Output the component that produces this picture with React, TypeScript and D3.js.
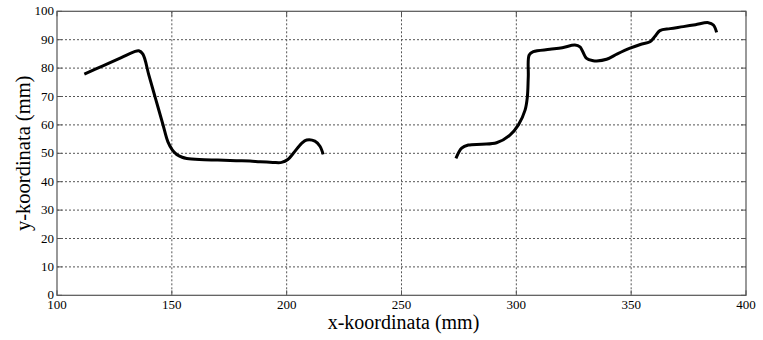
import * as d3 from "d3"

const seg1X = [111.9, 120, 128, 133.5, 135.6, 137.4, 140, 143, 146, 148.3, 150.2, 152.1, 154.5, 156.5, 162, 170, 178, 184, 188.4, 194, 197.8, 200.5, 202.9, 206.5, 208.7, 212.3, 214.5, 215.9]
const seg1Y = [77.9, 80.8, 83.7, 85.7, 86.1, 84.9, 77.5, 69, 60.5, 54.0, 51.2, 49.6, 48.6, 48.2, 47.8, 47.6, 47.4, 47.3, 47.0, 46.8, 46.8, 47.8, 50.0, 53.5, 54.7, 54.3, 52.5, 49.6]

// right part
const seg2X = [273.7, 276.2, 279.1, 285, 291.4, 297.2, 300.9, 303.8, 304.8, 305.2, 305.6, 307.4, 314.6, 320, 325.5, 327.7, 330.6, 333.5, 335, 339.3, 344, 349.5, 354, 358.2, 360.3, 362.5, 367, 372.7, 378, 383.6, 385.8, 387.2]
const seg2Y = [48.2, 51.8, 52.9, 53.2, 53.7, 56.4, 60.0, 65.2, 69.9, 77.0, 84.6, 85.8, 86.6, 87.2, 88.1, 87.5, 83.4, 82.6, 82.5, 83.1, 85.0, 87.0, 88.3, 89.3, 91.1, 93.2, 93.9, 94.6, 95.3, 96.0, 95.2, 92.6]

const xTicks = [100, 150, 200, 250, 300, 350, 400]
const yTicks = [0, 10, 20, 30, 40, 50, 60, 70, 80, 90, 100]

const W = 763
const H = 340
const FONT = "Liberation Serif"
const margin = { top: 11.3, right: 17, bottom: 44.7, left: 57 }
const width = W - margin.left - margin.right
const height = H - margin.top - margin.bottom

const x = d3.scaleLinear().domain([100, 400]).range([0, width])
const y = d3.scaleLinear().domain([0, 100]).range([height, 0])

const line = d3
  .line<number[]>()
  .x((d) => d[0])
  .y((d) => d[1])
  .curve(d3.curveCatmullRom.alpha(0.5))

const segs = [
  seg1X.map((v, i) => [x(v), y(seg1Y[i])]),
  seg2X.map((v, i) => [x(v), y(seg2Y[i])]),
]

const App = () => {
  return (
    <svg width={W} height={H} fontFamily={FONT} style={{ position: "absolute", left: 0, top: 0, background: "#fff" }}>
      <g transform={`translate(${margin.left},${margin.top})`}>
        {/* dotted grid */}
        {xTicks.slice(1, -1).map((t) => (
          <line key={"gx" + t} x1={x(t)} x2={x(t)} y1={0} y2={height} stroke="#555" strokeDasharray="2,2" />
        ))}
        {yTicks.slice(1, -1).map((t) => (
          <line key={"gy" + t} x1={0} x2={width} y1={y(t)} y2={y(t)} stroke="#555" strokeDasharray="2,2" />
        ))}

        {/* ticks, all four sides */}
        {xTicks.map((t) => (
          <g key={"tx" + t}>
            <line x1={x(t)} x2={x(t)} y1={height} y2={height - 5} stroke="#555" />
            <line x1={x(t)} x2={x(t)} y1={0} y2={5} stroke="#555" />
            <text x={x(t)} y={height + 14} textAnchor="middle" fontFamily={FONT} fontSize={13}>
              {t}
            </text>
          </g>
        ))}
        {yTicks.map((t) => (
          <g key={"ty" + t}>
            <line x1={0} x2={5} y1={y(t)} y2={y(t)} stroke="#555" />
            <line x1={width} x2={width - 5} y1={y(t)} y2={y(t)} stroke="#555" />
            <text x={-3} y={y(t)} dy="0.32em" textAnchor="end" fontFamily={FONT} fontSize={13}>
              {t}
            </text>
          </g>
        ))}

        <rect width={width} height={height} fill="none" stroke="#555" strokeWidth={1.2} />

        {/* profile */}
        {segs.map((s, i) => (
          <path key={i} d={line(s) || ""} fill="none" stroke="#000" strokeWidth={3} strokeLinejoin="round" />
        ))}

        {/* axis titles */}
        <text x={width / 2 + 2} y={height + 33.5} textAnchor="middle" fontFamily={FONT} fontSize={20}>
          x-koordinata (mm)
        </text>
        <text
          transform="rotate(-90)"
          x={-height / 2}
          y={-margin.left + 30}
          textAnchor="middle"
          fontFamily={FONT}
          fontSize={20.5}
        >
          y-koordinata (mm)
        </text>
      </g>
    </svg>
  )
}

export default App
